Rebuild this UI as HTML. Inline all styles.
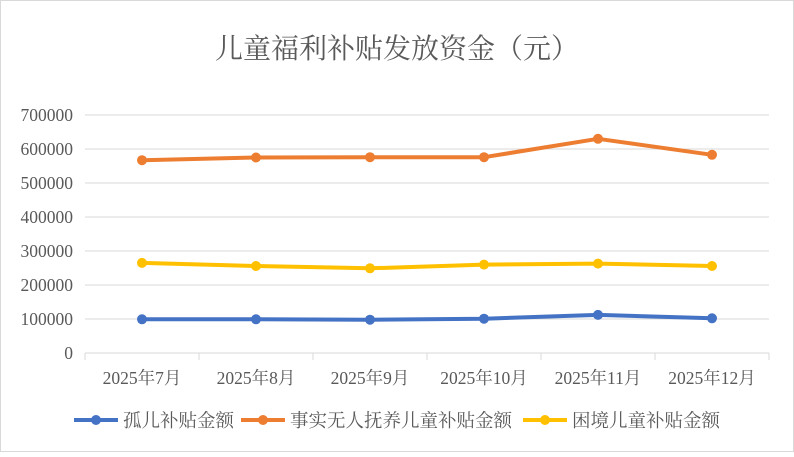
<!DOCTYPE html><html><head><meta charset="utf-8"><style>body{margin:0}svg text{font-family:"Liberation Serif","Noto Serif CJK SC",serif;fill:#595959}</style></head><body>
<svg width="794" height="452" xmlns="http://www.w3.org/2000/svg">
<rect x="0.5" y="0.5" width="793" height="451" fill="#fff" stroke="#d9d9d9"/>
<text x="397" y="58" font-size="28" text-anchor="middle">儿童福利补贴发放资金（元）</text>
<g stroke="#d9d9d9" stroke-width="1">
<line x1="85" y1="115" x2="769" y2="115"/><line x1="85" y1="149" x2="769" y2="149"/><line x1="85" y1="183" x2="769" y2="183"/><line x1="85" y1="217" x2="769" y2="217"/><line x1="85" y1="251" x2="769" y2="251"/><line x1="85" y1="285" x2="769" y2="285"/><line x1="85" y1="319" x2="769" y2="319"/>
<line x1="85" y1="353" x2="769" y2="353"/>
<line x1="85" y1="353" x2="85" y2="360"/><line x1="199" y1="353" x2="199" y2="360"/><line x1="313" y1="353" x2="313" y2="360"/><line x1="427" y1="353" x2="427" y2="360"/><line x1="541" y1="353" x2="541" y2="360"/><line x1="655" y1="353" x2="655" y2="360"/><line x1="769" y1="353" x2="769" y2="360"/>
</g>
<g font-size="17.5" text-anchor="end">
<text x="73" y="121">700000</text><text x="73" y="155">600000</text><text x="73" y="189">500000</text><text x="73" y="223">400000</text><text x="73" y="257">300000</text><text x="73" y="291">200000</text><text x="73" y="325">100000</text><text x="73" y="359">0</text>
</g>
<g font-size="17.5" text-anchor="middle">
<text x="142" y="384">2025年7月</text><text x="256" y="384">2025年8月</text><text x="370" y="384">2025年9月</text><text x="484" y="384">2025年10月</text><text x="598" y="384">2025年11月</text><text x="712" y="384">2025年12月</text>
</g>
<g fill="none" stroke-width="4" stroke-linejoin="round">
<polyline stroke="#ed7d31" points="142,160.2 256,157.5 370,157.2 484,157.2 598,138.8 712,154.8"/>
<polyline stroke="#ffc000" points="142,262.9 256,266 370,268.3 484,264.6 598,263.6 712,266"/>
<polyline stroke="#4472c4" points="142,319.3 256,319.3 370,319.7 484,318.7 598,314.9 712,318.3"/>
</g>
<g fill="#ed7d31"><circle cx="142" cy="160.2" r="5"/><circle cx="256" cy="157.5" r="5"/><circle cx="370" cy="157.2" r="5"/><circle cx="484" cy="157.2" r="5"/><circle cx="598" cy="138.8" r="5"/><circle cx="712" cy="154.8" r="5"/></g>
<g fill="#ffc000"><circle cx="142" cy="262.9" r="5"/><circle cx="256" cy="266" r="5"/><circle cx="370" cy="268.3" r="5"/><circle cx="484" cy="264.6" r="5"/><circle cx="598" cy="263.6" r="5"/><circle cx="712" cy="266" r="5"/></g>
<g fill="#4472c4"><circle cx="142" cy="319.3" r="5"/><circle cx="256" cy="319.3" r="5"/><circle cx="370" cy="319.7" r="5"/><circle cx="484" cy="318.7" r="5"/><circle cx="598" cy="314.9" r="5"/><circle cx="712" cy="318.3" r="5"/></g>
<g stroke-width="4">
<line x1="74" y1="420" x2="118" y2="420" stroke="#4472c4"/><circle cx="96" cy="420" r="5" fill="#4472c4"/>
<line x1="241" y1="420" x2="285" y2="420" stroke="#ed7d31"/><circle cx="263" cy="420" r="5" fill="#ed7d31"/>
<line x1="523" y1="420" x2="567" y2="420" stroke="#ffc000"/><circle cx="545" cy="420" r="5" fill="#ffc000"/>
</g>
<g font-size="18.5">
<text x="123" y="427">孤儿补贴金额</text>
<text x="290" y="427">事实无人抚养儿童补贴金额</text>
<text x="572" y="427">困境儿童补贴金额</text>
</g>
</svg>
</body></html>
